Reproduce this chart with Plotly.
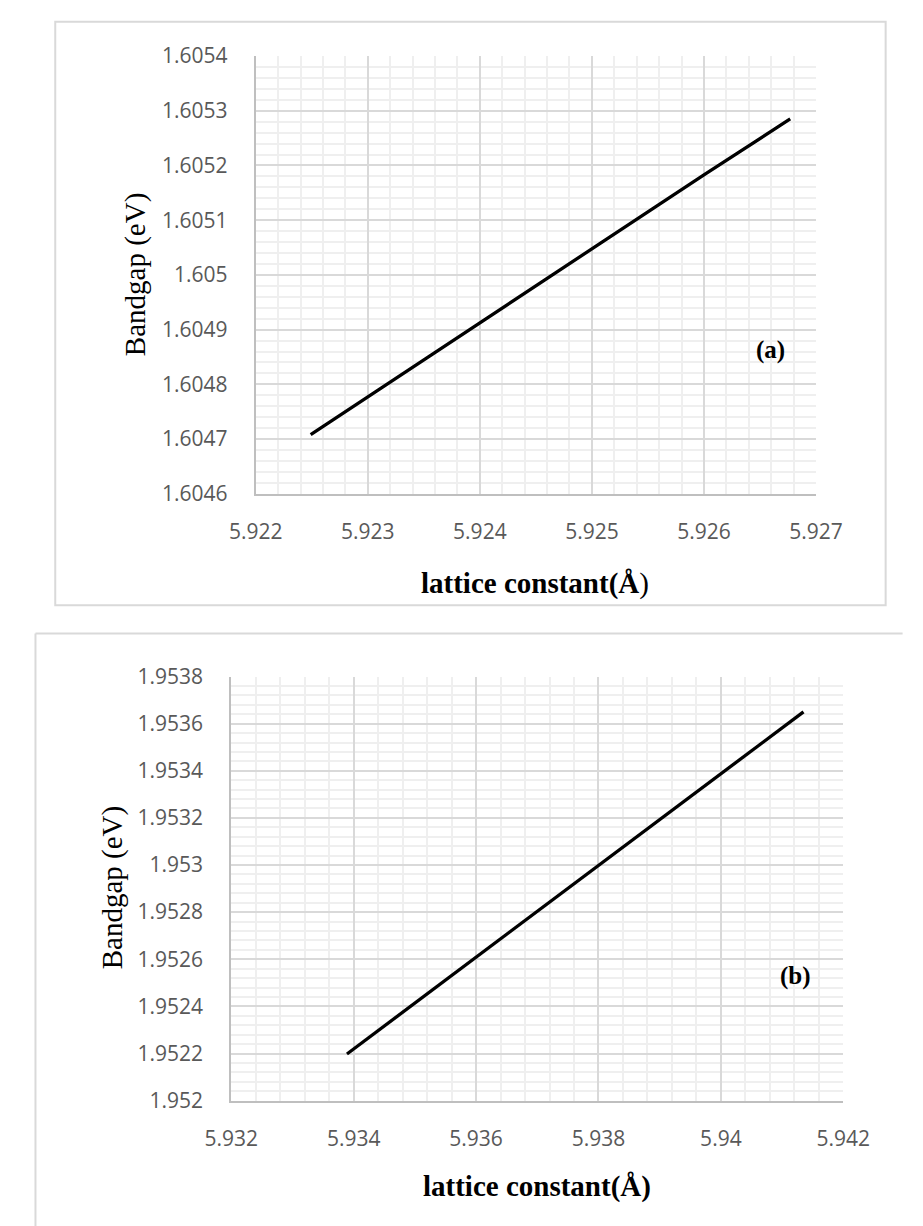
import plotly.graph_objects as go

# ---- data: panel (a) ----
lat_a = [5.92249, 5.923, 5.924, 5.925, 5.926, 5.92677]
gap_a = [1.604708, 1.604777, 1.604912, 1.605048, 1.605183, 1.605285]
xt_a_vals = [5.922, 5.923, 5.924, 5.925, 5.926, 5.927]
xt_a_text = ["5.922", "5.923", "5.924", "5.925", "5.926", "5.927"]
yt_a_vals = [1.6046, 1.6047, 1.6048, 1.6049, 1.6050, 1.6051, 1.6052, 1.6053, 1.6054]
yt_a_text = ["1.6046", "1.6047", "1.6048", "1.6049", "1.605", "1.6051", "1.6052", "1.6053", "1.6054"]

# ---- data: panel (b) ----
lat_b = [5.93389, 5.936, 5.938, 5.940, 5.94135]
gap_b = [1.952198, 1.952609, 1.952998, 1.953387, 1.953650]
xt_b_vals = [5.932, 5.934, 5.936, 5.938, 5.940, 5.942]
xt_b_text = ["5.932", "5.934", "5.936", "5.938", "5.94", "5.942"]
yt_b_vals = [1.9520, 1.9522, 1.9524, 1.9526, 1.9528, 1.9530, 1.9532, 1.9534, 1.9536, 1.9538]
yt_b_text = ["1.952", "1.9522", "1.9524", "1.9526", "1.9528", "1.953", "1.9532", "1.9534", "1.9536", "1.9538"]

W, H = 923, 1226
def px(x): return x / W
def py(y): return 1 - y / H

tick_font = dict(family="Open Sans", size=21, color="#595959")
serif = "Liberation Serif, Times New Roman, serif"

fig = go.Figure()
fig.add_trace(go.Scatter(x=lat_a, y=gap_a, mode="lines", line=dict(color="black", width=3.3),
                         xaxis="x", yaxis="y", showlegend=False, hoverinfo="skip"))
fig.add_trace(go.Scatter(x=lat_b, y=gap_b, mode="lines", line=dict(color="black", width=3.3),
                         xaxis="x2", yaxis="y2", showlegend=False, hoverinfo="skip"))

def xax(domain, anchor, rng, vals, text, minor_dtick):
    return dict(domain=domain, anchor=anchor, range=rng, tickmode="array", tickvals=vals, ticktext=text,
                showgrid=True, gridcolor="#d9d9d9", gridwidth=1.5,
                minor=dict(showgrid=True, dtick=minor_dtick, tick0=rng[0], gridcolor="#efefef", gridwidth=1.5, ticks=""),
                showline=True, linecolor="#bfbfbf", linewidth=2, ticks="", zeroline=False,
                tickfont=tick_font, ticklabelstandoff=18, fixedrange=True)

def yax(domain, anchor, rng, vals, text, minor_dtick):
    return dict(domain=domain, anchor=anchor, range=rng, tickmode="array", tickvals=vals, ticktext=text,
                showgrid=True, gridcolor="#d9d9d9", gridwidth=1.5,
                minor=dict(showgrid=True, dtick=minor_dtick, tick0=rng[0], gridcolor="#efefef", gridwidth=1.5, ticks=""),
                showline=True, linecolor="#bfbfbf", linewidth=2, ticks="", zeroline=False,
                tickfont=tick_font, ticklabelstandoff=22, fixedrange=True)

fig.update_layout(
    width=W, height=H, margin=dict(l=0, r=0, t=0, b=0),
    paper_bgcolor="white", plot_bgcolor="white",
    xaxis=xax([px(243), px(838)], "y", [5.922, 5.927], xt_a_vals, xt_a_text, 0.0002),
    yaxis=yax([py(490), py(42)], "x", [1.6046, 1.6054], yt_a_vals, yt_a_text, 0.00002),
    xaxis2=xax([px(217), px(867)], "y2", [5.932, 5.942], xt_b_vals, xt_b_text, 0.0004),
    yaxis2=yax([py(1111), py(677)], "x2", [1.952, 1.9538], yt_b_vals, yt_b_text, 0.00004),
)

border = dict(color="#d9d9d9", width=2)
fig.add_shape(type="rect", xref="paper", yref="paper", x0=px(30), x1=px(912), y0=py(604), y1=py(7), line=border, layer="below")
fig.add_shape(type="line", xref="paper", yref="paper", x0=px(9), x1=px(930), y0=py(633), y1=py(633), line=border)
fig.add_shape(type="line", xref="paper", yref="paper", x0=px(9), x1=px(9), y0=py(633), y1=py(1240), line=border)

title_font = dict(family=serif, size=29, color="black")
ann = [
    dict(text="Bandgap (eV)", x=px(116), y=py(266), textangle=-90, font=title_font),
    dict(text="<b>lattice constant(Å</b>)", x=px(540), y=py(582), font=title_font),
    dict(text="<b>(a)</b>", x=px(790), y=py(343), font=dict(family=serif, size=25, color="black")),
    dict(text="Bandgap (eV)", x=px(91), y=py(893), textangle=-90, font=title_font),
    dict(text="<b>lattice constant(Å)</b>", x=px(542), y=py(1199), font=title_font),
    dict(text="<b>(b)</b>", x=px(816), y=py(983), font=dict(family=serif, size=25, color="black")),
]
for a in ann:
    fig.add_annotation(xref="paper", yref="paper", xanchor="center", yanchor="middle", showarrow=False, **a)

fig.write_html("out.html")
